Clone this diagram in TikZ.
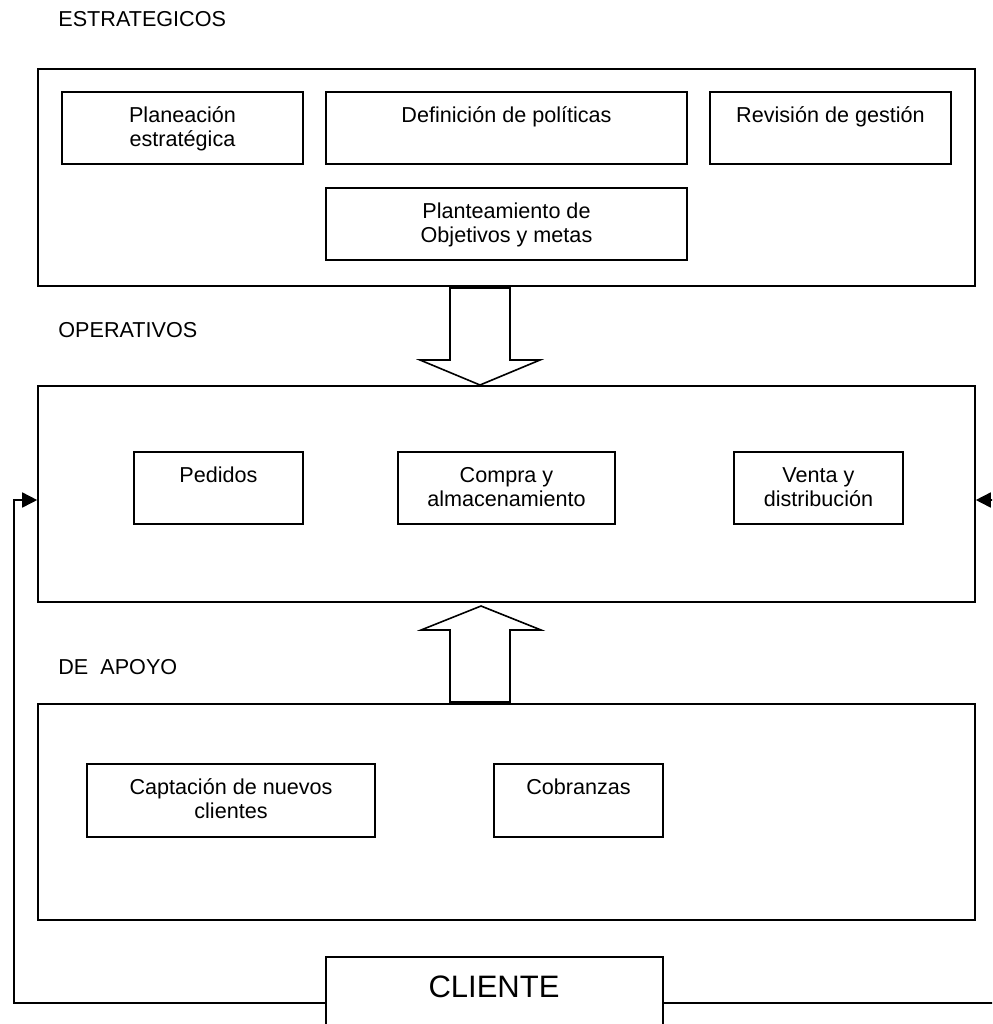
\documentclass[tikz,border=0pt]{standalone}
\usepackage{fontspec}
\setmainfont{Liberation Sans}
\usetikzlibrary{fit,arrows.meta}

\tikzset{
  box/.style={draw, line width=0.8pt, inner sep=0pt},
  boxtext/.style={anchor=base, align=center, inner sep=0pt, yshift={-15.5pt-12pt*(#1-1)}},
  boxtext/.default=1,
  level/.style={anchor=base west, inner sep=0pt},
  conn/.style={line width=0.8pt, -{Triangle[length=7.5pt,width=7.5pt]}},
  bigarrow/.style={draw, line width=0.8pt, fill=white, line join=miter},
}

\begin{document}
\begin{tikzpicture}[x=0.5pt, y=-0.5pt, font=\fontsize{10.8}{12}\selectfont]
    \clip (0,0) rectangle (992,1024);

    % Level titles
    \foreach \y/\t in {26/ESTRATEGICOS, 337/OPERATIVOS, 674/DE\ \ APOYO} {
        \node[level] (lvl\y) at (58,\y) {\t};
    }

    % Strategic processes
    \node[box, fit={(38,69) (975,286)}] (est) {};
    \node[box, fit={(62,92) (303,164)}] (plan) {};
    \node[boxtext=2] (planT) at (plan.north) {Planeación\\estratégica};
    \node[box, fit={(326,92) (687,164)}] (pol) {};
    \node[boxtext] (polT) at (pol.north) {Definición de políticas};
    \node[box, fit={(710,92) (951,164)}] (rev) {};
    \node[boxtext] (revT) at (rev.north) {Revisión de gestión};
    \node[box, fit={(326,188) (687,260)}] (obj) {};
    \node[boxtext=2] (objT) at (obj.north) {Planteamiento de\\Objetivos y metas};

    % Operational processes
    \node[box, fit={(38,386) (975,602)}] (op) {};
    \node[box, fit={(134,452) (303,524)}] (ped) {};
    \node[boxtext] (pedT) at (ped.north) {Pedidos};
    \node[box, fit={(398,452) (615,524)}] (comp) {};
    \node[boxtext=2] (compT) at (comp.north) {Compra y\\almacenamiento};
    \node[box, fit={(734,452) (903,524)}] (vent) {};
    \node[boxtext=2] (ventT) at (vent.north) {Venta y\\distribución};

    % Support processes
    \node[box, fit={(38,704) (975,920)}] (apo) {};
    \node[box, fit={(87,764) (375,837)}] (capt) {};
    \node[boxtext=2] (captT) at (capt.north) {Captación de nuevos\\clientes};
    \node[box, fit={(494,764) (663,837)}] (cob) {};
    \node[boxtext] (cobT) at (cob.north) {Cobranzas};

    % Block arrows between levels
    \draw[bigarrow] (450,288) -- (510,288) -- (510,360) -- (540,360)
        -- (480,385) -- (420,360) -- (450,360) -- cycle;
    \draw[bigarrow] (450,702) -- (510,702) -- (510,630) -- (541,630)
        -- (481,606) -- (421,630) -- (450,630) -- cycle;

    % Client
    \node[box, fit={(326,957) (663,1049)}] (cli) {};
    \node[anchor=base, inner sep=0pt, font=\fontsize{15.5}{18}\selectfont]
        (cliT) at (494,997) {CLIENTE};

    % Feedback from the client
    \coordinate (lbot) at (14,1003);
    \coordinate (ltop) at (14,500);
    \draw[conn] (cli.west) -- (lbot) -- (ltop) -- (ltop -| op.west);
    \coordinate (rbot) at (1000,1003);
    \coordinate (rtop) at (1000,500);
    \draw[conn] (cli.east) -- (rbot) -- (rtop) -- (rtop -| op.east);
\end{tikzpicture}
\end{document}
